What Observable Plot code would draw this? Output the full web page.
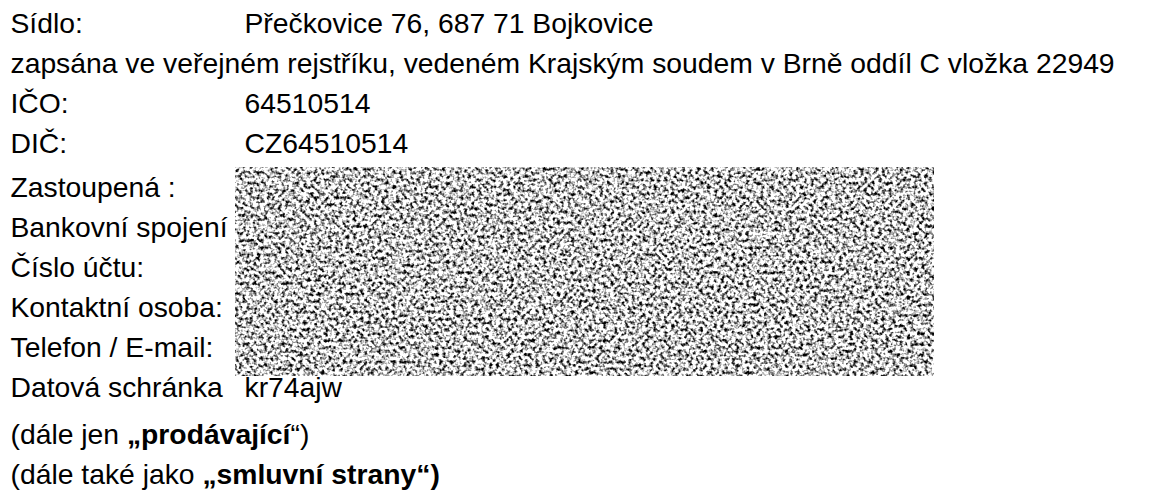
<!DOCTYPE html>
<html><head><meta charset="utf-8">
<script src="https://cdn.jsdelivr.net/npm/d3@7"></script>
<script src="https://cdn.jsdelivr.net/npm/@observablehq/plot@0.6"></script>
<style>html,body{margin:0;padding:0;background:#fff;} svg{display:block}</style>
</head><body><div id="chart"></div>
<script>
// ---- content ----
const labels = ["Sídlo:", "zapsána ve veřejném rejstříku, vedeném Krajským soudem v Brně oddíl C vložka 22949", "IČO:", "DIČ:", "Zastoupená :", "Bankovní spojení", "Číslo účtu:", "Kontaktní osoba:", "Telefon / E-mail:", "Datová schránka"];
const values = ["Přečkovice 76, 687 71 Bojkovice", "", "64510514", "CZ64510514", "", "", "", "", "", "kr74ajw"];
const noteLead = ["(dále jen ", "(dále také jako "];
const noteBold = ["„prodávající", "„smluvní strany“)"];
const noteTail = ["“)", ""];
const redactedRows = [4, 8]; // first and last row hidden by the redaction block

// ---- layout ----
const W = 1159, H = 490, FS = 28.3;
const FONT = '"Liberation Sans", Arial, sans-serif';
const LABEL_X = 10, VALUE_X = 244, RED_X1 = 235, RED_X2 = 934;
const groupGap = i => i < 4 ? 0 : i < 10 ? 0.1 : 0.275; // extra spacing, in line units
const rowPos = i => i + groupGap(i);

const ctx = document.createElement("canvas").getContext("2d");
const measure = (t, w) => { ctx.font = `${w} ${FS}px ${FONT}`; return ctx.measureText(t).width; };

const normalSegs = [], boldSegs = [];
labels.forEach((t, i) => normalSegs.push({x: LABEL_X, row: rowPos(i), text: t}));
values.forEach((t, i) => { if (t) normalSegs.push({x: VALUE_X, row: rowPos(i), text: t}); });
noteLead.forEach((lead, j) => {
  const r = rowPos(labels.length + j);
  const xb = LABEL_X + measure(lead, "normal");
  const xt = xb + measure(noteBold[j], "bold");
  normalSegs.push({x: LABEL_X, row: r, text: lead});
  boldSegs.push({x: xb, row: r, text: noteBold[j]});
  if (noteTail[j]) normalSegs.push({x: xt, row: r, text: noteTail[j]});
});

const lastRow = rowPos(labels.length + noteLead.length - 1);
const svg = Plot.plot({
  width: W, height: H,
  margin: 0,
  style: {background: "#fff", fontFamily: FONT},
  x: {domain: [0, W], range: [0, W], axis: null},
  y: {domain: [0, lastRow], range: [32, 483], axis: null},
  marks: [
    Plot.rect([{r0: redactedRows[0], r1: redactedRows[1]}], {
      x1: () => RED_X1, x2: () => RED_X2,
      y1: d => rowPos(d.r0) - 0.725, y2: d => rowPos(d.r1) + 0.5,
      fill: "url(#noise-fill)"
    }),
    Plot.text(normalSegs, {x: "x", y: "row", text: "text", fontSize: FS, fontWeight: "normal", textAnchor: "start", lineAnchor: "bottom", fill: "black"}),
    Plot.text(boldSegs, {x: "x", y: "row", text: "text", fontSize: FS, fontWeight: "bold", textAnchor: "start", lineAnchor: "bottom", fill: "black"})
  ]
});

const ns = "http://www.w3.org/2000/svg";
const defs = document.createElementNS(ns, "defs");
defs.innerHTML = `<filter id="grain" x="0" y="0" width="1" height="1" color-interpolation-filters="sRGB">
  <feTurbulence type="fractalNoise" baseFrequency="0.28" numOctaves="2" seed="7"/>
  <feColorMatrix type="matrix" values="3.2 0 0 0 -0.82  3.2 0 0 0 -0.82  3.2 0 0 0 -0.82  0 0 0 0 1"/>
  <feGaussianBlur stdDeviation="0.5"/>
</filter>
<pattern id="noise-fill" patternUnits="userSpaceOnUse" x="0" y="0" width="${W}" height="${H}">
  <rect width="${W}" height="${H}" filter="url(#grain)"/>
</pattern>`;
svg.prepend(defs);
document.getElementById("chart").appendChild(svg);
</script>
</body></html>
